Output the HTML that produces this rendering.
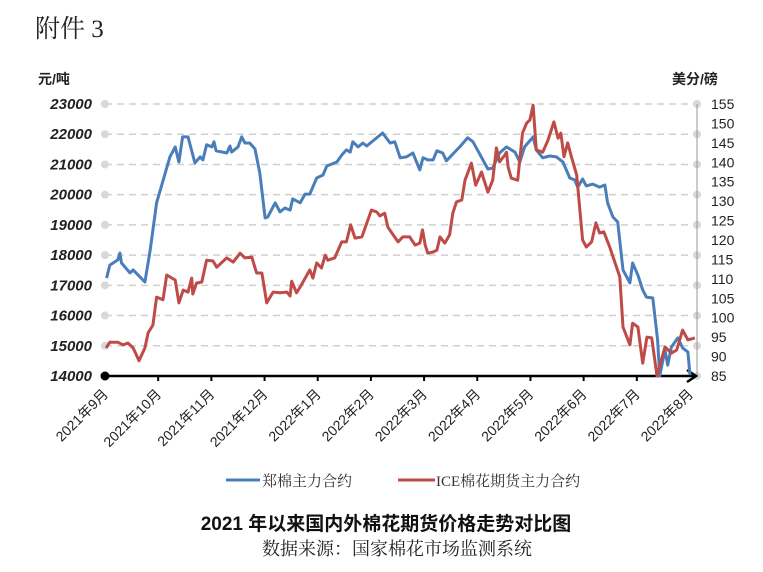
<!DOCTYPE html>
<html><head><meta charset="utf-8">
<style>
body{margin:0;background:#fff;}
svg{display:block;}
</style></head>
<body>
<svg id="chart" width="763" height="572" viewBox="0 0 763 572" xmlns="http://www.w3.org/2000/svg">
<text x="35" y="37" font-family="'Liberation Serif','Noto Serif CJK SC',serif" font-size="25" fill="#222">附件 3</text>
<text x="38" y="84" font-family="'Liberation Sans','Noto Sans CJK SC',sans-serif" font-size="14" font-weight="bold" fill="#222">元/吨</text>
<text x="672" y="84" font-family="'Liberation Sans','Noto Sans CJK SC',sans-serif" font-size="14" font-weight="bold" fill="#222">美分/磅</text>
<g id="grid"></g>
<g id="axes"></g>
<g id="series"></g>
<g>
<line x1="226" y1="480" x2="260" y2="480" stroke="#4a7ebb" stroke-width="3"/>
<text x="262" y="486" font-family="'Noto Serif CJK SC',serif" font-size="15" fill="#333">郑棉主力合约</text>
<line x1="398" y1="480" x2="435" y2="480" stroke="#be4b48" stroke-width="3"/>
<text x="436" y="486" font-family="'Liberation Serif','Noto Serif CJK SC',serif" font-size="15" fill="#333">ICE棉花期货主力合约</text>
</g>
<text x="386" y="530" text-anchor="middle" font-family="'Liberation Sans','Noto Sans CJK SC',sans-serif" font-size="19" font-weight="bold" fill="#111">2021 年以来国内外棉花期货价格走势对比图</text>
<text x="397" y="555" text-anchor="middle" font-family="'Noto Serif CJK SC',serif" font-size="18" fill="#222">数据来源：国家棉花市场监测系统</text>
</svg>
<script>
const monthLabels=["2021年9月","2021年10月","2021年11月","2021年12月","2022年1月","2022年2月","2022年3月","2022年4月","2022年5月","2022年6月","2022年7月","2022年8月"];
const leftTicks=[14000,15000,16000,17000,18000,19000,20000,21000,22000,23000];
const rightTicks=[85,90,95,100,105,110,115,120,125,130,135,140,145,150,155];
const zceT=[0.03,0.09,0.24,0.28,0.31,0.47,0.53,0.75,0.85,0.97,1.22,1.32,1.39,1.46,1.56,1.69,1.79,1.84,1.91,2.01,2.05,2.09,2.29,2.35,2.38,2.5,2.57,2.63,2.72,2.82,2.91,3.01,3.06,3.2,3.29,3.38,3.48,3.53,3.67,3.76,3.85,3.98,4.1,4.17,4.36,4.45,4.54,4.61,4.66,4.76,4.85,4.92,5.22,5.36,5.45,5.55,5.67,5.79,5.92,5.98,6.07,6.17,6.24,6.35,6.42,6.67,6.82,6.92,7.2,7.29,7.42,7.55,7.71,7.8,7.89,8.05,8.11,8.23,8.36,8.49,8.61,8.74,8.83,8.89,8.98,9.05,9.17,9.3,9.4,9.45,9.55,9.64,9.74,9.87,9.92,10.02,10.11,10.18,10.3,10.39,10.43,10.53,10.58,10.65,10.77,10.86,10.96,11.0];
const zceValues=[17240,17670,17840,18070,17740,17410,17510,17110,18170,19730,21250,21580,21080,21910,21910,21050,21250,21150,21650,21580,21750,21450,21380,21610,21410,21580,21910,21710,21710,21510,20720,19230,19260,19730,19430,19560,19490,19860,19730,20020,20020,20550,20650,20950,21080,21310,21480,21410,21750,21580,21710,21610,22040,21710,21750,21220,21250,21380,20820,21220,21150,21150,21450,21380,21120,21580,21880,21750,20850,20880,21380,21580,21410,21080,21580,21910,21480,21220,21280,21250,21080,20550,20490,20250,20520,20290,20350,20250,20320,19730,19260,19100,17510,17080,17740,17340,16850,16610,16580,15190,14000,14860,14360,14960,15260,14930,14790,14030];
const iceT=[0.02,0.09,0.24,0.34,0.43,0.53,0.64,0.75,0.81,0.9,0.97,1.09,1.16,1.32,1.39,1.47,1.56,1.63,1.65,1.72,1.82,1.91,2.03,2.1,2.29,2.41,2.54,2.63,2.76,2.85,2.95,3.04,3.16,3.29,3.42,3.48,3.51,3.6,3.67,3.85,3.91,3.98,4.07,4.14,4.19,4.32,4.45,4.54,4.62,4.7,4.83,5.01,5.11,5.17,5.26,5.32,5.51,5.6,5.73,5.83,5.92,5.97,6.02,6.07,6.17,6.24,6.3,6.39,6.48,6.54,6.61,6.71,6.77,6.89,6.97,7.08,7.2,7.29,7.36,7.42,7.52,7.55,7.58,7.64,7.76,7.85,7.93,7.99,8.05,8.11,8.23,8.33,8.44,8.52,8.57,8.63,8.7,8.77,8.87,8.98,9.05,9.15,9.23,9.3,9.38,9.49,9.68,9.74,9.87,9.92,10.02,10.11,10.19,10.28,10.38,10.53,10.65,10.75,10.86,10.96,11.09];
const iceValues=[92.2,93.7,93.7,93.0,93.5,92.2,88.9,92.2,96.1,98.1,105.3,104.6,111.0,109.7,103.8,107.1,106.6,110.2,106.1,108.9,109.2,114.8,114.6,113.0,115.4,114.3,116.6,115.4,115.6,111.5,111.5,103.8,106.6,106.4,106.6,105.6,109.4,106.4,107.9,112.3,110.2,114.1,112.8,116.1,114.8,115.4,119.5,119.5,123.9,120.5,120.8,127.7,127.2,126.2,126.9,123.3,119.5,120.8,120.8,118.7,119.2,122.6,118.7,116.6,116.9,117.4,120.8,119.2,121.3,126.9,129.8,130.3,135.4,139.8,134.1,137.5,132.3,135.4,143.7,140.1,141.9,142.6,138.8,135.9,135.4,147.5,150.1,150.9,154.7,143.2,142.6,145.7,150.4,146.2,147.5,141.4,145.0,141.4,136.7,120.0,118.2,119.5,124.4,121.8,122.1,118.2,110.5,97.6,93.0,98.6,97.6,88.3,95.0,94.8,85.0,92.5,90.9,91.7,96.8,94.3,94.8];

const NS="http://www.w3.org/2000/svg";
const X0=105,X1=690,Y0=376,Y1=104,PR=697;
function xScale(t){return X0+t*(X1-X0)/11;}
function yLeft(v){return Y0-(v-14000)/(23000-14000)*(Y0-Y1);}
function yRight(v){return Y0-(v-85)/(155-85)*(Y0-Y1);}
function mk(tag,attrs,parent){const e=document.createElementNS(NS,tag);for(const k in attrs)e.setAttribute(k,attrs[k]);parent.appendChild(e);return e;}
const grid=document.getElementById('grid'),axes=document.getElementById('axes'),series=document.getElementById('series');
leftTicks.forEach(v=>{
  const y=yLeft(v);
  if(v>14000){const g=mk('line',{x1:X0,y1:y,x2:PR,y2:y,stroke:'#d0d0d0','stroke-width':1.5,'stroke-dasharray':'7,5'},grid);
  
  }
  const d=mk('circle',{cx:X0,cy:y,r:4,fill:'#d8d8d8'},grid);
  
  
  const d2=mk('circle',{cx:PR,cy:y,r:4,fill:'#d8d8d8'},grid);
  
  
  const t=mk('text',{x:92,y:y+5,'text-anchor':'end','font-family':'Liberation Sans,sans-serif','font-size':15,'font-style':'italic','font-weight':'bold',fill:'#222'},axes);
  t.textContent=v;
  
  
});
const ra=mk('line',{x1:PR,y1:Y1,x2:PR,y2:Y0,stroke:'#999','stroke-width':1},axes);


rightTicks.forEach(v=>{
  const t=mk('text',{x:711,y:yRight(v)+5,'font-family':'Liberation Sans,sans-serif','font-size':14,fill:'#222'},axes);
  t.textContent=v;
  
  
});
const xa=mk('line',{x1:X0,y1:Y0,x2:PR-2,y2:Y0,stroke:'#000','stroke-width':2.5},axes);


const ar=mk('path',{d:`M${PR-10},${Y0-6} L${PR-1},${Y0} L${PR-10},${Y0+6}`,fill:'none',stroke:'#000','stroke-width':2.5},axes);


const od=mk('circle',{cx:X0,cy:Y0,r:4.5,fill:'#000'},axes);


monthLabels.forEach((m,i)=>{
  const x=xScale(i);
  if(i>0&&i<11){const tk=mk('line',{x1:x,y1:Y0,x2:x,y2:Y0+5,stroke:'#000','stroke-width':2},axes);
  
  }
  const t=mk('text',{x:x+4,y:Y0+19,'text-anchor':'end',transform:`rotate(-45 ${x+4} ${Y0+19})`,'font-family':"'Liberation Sans','Noto Sans CJK SC',sans-serif",'font-size':14,fill:'#222'},axes);
  t.textContent=m;
  
  
});
function line(ts,vs,ys,color,name){
  const d=ts.map((t,i)=>(i?'L':'M')+xScale(t).toFixed(1)+','+ys(vs[i]).toFixed(1)).join(' ');
  const p=mk('path',{d:d,fill:'none',stroke:color,'stroke-width':3,'stroke-linejoin':'round'},series);
  
  
}
line(zceT,zceValues,yLeft,'#4a7ebb','zce-cotton-line');
line(iceT,iceValues,yRight,'#be4b48','ice-cotton-line');
</script>
</body></html>
